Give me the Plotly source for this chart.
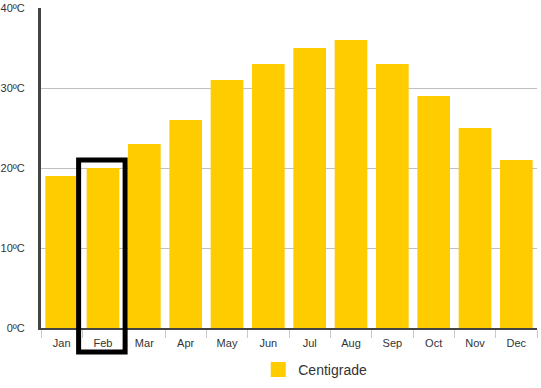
import plotly.graph_objects as go

months = ["Jan", "Feb", "Mar", "Apr", "May", "Jun", "Jul", "Aug", "Sep", "Oct", "Nov", "Dec"]
centigrade = [19, 20, 23, 26, 31, 33, 35, 36, 33, 29, 25, 21]
y_ticks = [0, 10, 20, 30, 40]
y_tick_labels = ["0ºC", "10ºC", "20ºC", "30ºC", "40ºC"]
highlight_month = 1  # index of Feb

fig = go.Figure()
fig.add_trace(go.Bar(
    x=months, y=centigrade, name="Centigrade",
    marker=dict(color="#FFCC00", line=dict(width=0)),
    showlegend=False,
))
# legend entry (larger square swatch like the reference)
fig.add_trace(go.Scatter(
    x=[None], y=[None], mode="markers", name="Centigrade",
    marker=dict(symbol="square", size=15, color="#FFCC00"),
    showlegend=True,
))

fig.update_layout(
    width=541, height=388,
    margin=dict(l=41, r=4, t=8, b=60, autoexpand=False),
    paper_bgcolor="white", plot_bgcolor="white",
    font=dict(family="Liberation Sans, Arial, sans-serif", size=11, color="#333333"),
    bargap=0.21,
    showlegend=True,
    legend=dict(orientation="h", x=0.438, xanchor="left", y=-0.131, yanchor="middle",
                font=dict(size=14, color="#333333"), itemwidth=30),
)
fig.update_xaxes(
    type="category", showgrid=False,
    showline=True, linecolor="#444444", linewidth=2,
    ticks="outside", tickson="boundaries", ticklen=8, tickcolor="#C8C8C8", tickwidth=1,
    ticklabelstandoff=4,
    tickfont=dict(size=11, color="#333333"),
)
fig.update_yaxes(
    range=[0, 40], tickvals=y_ticks, ticktext=y_tick_labels,
    showgrid=True, gridcolor="#C0C0C0", gridwidth=1,
    showline=True, linecolor="#444444", linewidth=3,
    ticks="outside", ticklen=0, ticklabelstandoff=11,
    tickfont=dict(size=11, color="#333333"),
    zeroline=False,
)

fig.add_shape(
    type="rect", xref="x", yref="paper",
    x0=highlight_month - 0.59, x1=highlight_month + 0.535,
    y0=-0.075, y1=0.525,
    line=dict(color="black", width=5), fillcolor="rgba(0,0,0,0)",
    layer="above",
)

fig.write_html(
    "out.html",
    config={"displayModeBar": False},
    post_script="document.body.style.margin='0';document.body.style.overflow='hidden';",
)
